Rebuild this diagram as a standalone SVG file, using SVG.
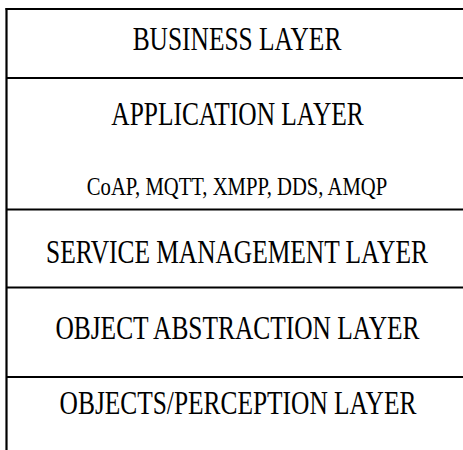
<svg xmlns="http://www.w3.org/2000/svg" width="463" height="450" viewBox="0 0 463 450">
<style>
.ln{stroke:#000;stroke-width:2.2;fill:none}
.t{font-family:"Liberation Serif","Times New Roman",serif;font-size:33px;fill:#000;text-anchor:middle}
.s{font-family:"Liberation Serif","Times New Roman",serif;font-size:26px;fill:#000;text-anchor:middle}
</style>
<rect width="463" height="450" fill="#fff"/>
<g id="connectors">
<line class="ln" x1="6.5" y1="8" x2="6.5" y2="450"/>
<line class="ln" x1="5.5" y1="9" x2="463" y2="9"/>
<line class="ln" x1="6.5" y1="78" x2="463" y2="78"/>
<line class="ln" x1="6.5" y1="209.5" x2="463" y2="209.5"/>
<line class="ln" x1="6.5" y1="287.5" x2="463" y2="287.5"/>
<line class="ln" x1="6.5" y1="377" x2="463" y2="377"/>
</g>
<g id="business" transform="translate(237,50) scale(0.77,1)">
<text class="t" x="0" y="0">BUSINESS LAYER</text>
</g>
<g id="application">
<text class="t" transform="translate(237.5,125) scale(0.77,1)">APPLICATION LAYER</text>
<text class="s" transform="translate(237,195) scale(0.795,1)">CoAP, MQTT, XMPP, DDS, AMQP</text>
</g>
<g id="service">
<text class="t" transform="translate(237,263) scale(0.77,1)">SERVICE MANAGEMENT LAYER</text>
</g>
<g id="object-abstraction">
<text class="t" transform="translate(237.5,339) scale(0.77,1)">OBJECT ABSTRACTION LAYER</text>
</g>
<g id="perception">
<text class="t" transform="translate(238,414) scale(0.77,1)">OBJECTS/PERCEPTION LAYER</text>
</g>
</svg>
